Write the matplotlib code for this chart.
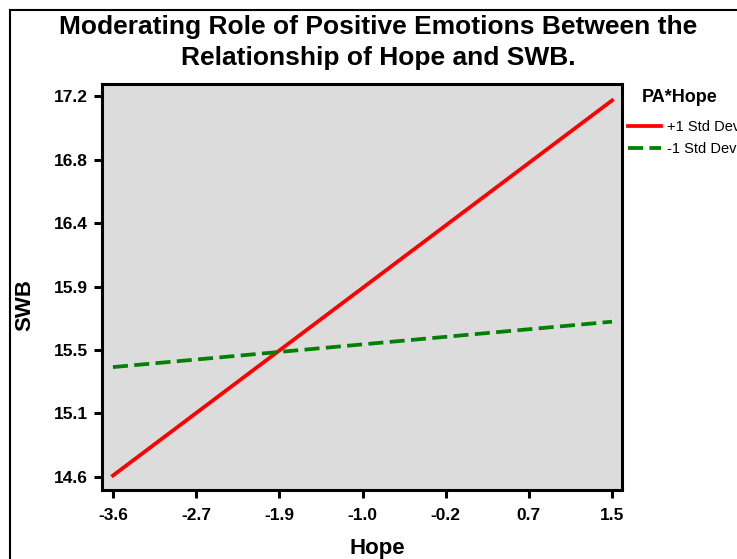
import numpy as np
import matplotlib.pyplot as plt
from matplotlib.lines import Line2D

# data
hope = [-3.6, 1.5]
swb_high = [14.61, 17.17]   # PA +1 Std Dev
swb_low = [15.35, 15.66]    # PA -1 Std Dev
series_labels = ['+1 Std Dev', '-1 Std Dev']
xtick_labels = ['-3.6', '-2.7', '-1.9', '-1.0', '-0.2', '0.7', '1.5']
ytick_labels = ['14.6', '15.1', '15.5', '15.9', '16.4', '16.8', '17.2']

plt.rcParams['font.family'] = ['Liberation Sans', 'DejaVu Sans']

fig = plt.figure(figsize=(7.37, 5.59), dpi=100)
ax = fig.add_axes([0.1384, 0.1234, 0.7056, 0.7263])
ax.set_facecolor('#dcdcdc')

ax.plot(hope, swb_high, color='#ff0000', lw=2.7, label=series_labels[0])
ax.plot(hope, swb_low, color='#008000', lw=2.7, ls=(0, (4, 1.7)), label=series_labels[1])

ax.set_xlim(-3.712, 1.602)
ax.set_ylim(14.511, 17.282)
ax.set_xticks(np.linspace(-3.6, 1.5, 7))
ax.set_xticklabels(xtick_labels)
ax.set_yticks(np.linspace(14.6, 17.2, 7))
ax.set_yticklabels(ytick_labels)

for s in ax.spines.values():
    s.set_linewidth(2.2)
ax.tick_params(length=6, width=2.2, labelsize=12.5)
ax.tick_params(axis='x', pad=7)
ax.tick_params(axis='y', pad=4)
for t in ax.get_xticklabels() + ax.get_yticklabels():
    t.set_fontweight('bold')

fig.text(0.512, 0.019, 'Hope', fontsize=16, fontweight='bold', ha='center', va='center')
fig.text(0.034, 0.455, 'SWB', fontsize=16, fontweight='bold', ha='center', va='center', rotation=90)

fig.text(0.513, 0.952, 'Moderating Role of Positive Emotions Between the',
         fontsize=19, fontweight='bold', ha='center', va='center')
fig.text(0.513, 0.897, 'Relationship of Hope and SWB.',
         fontsize=19, fontweight='bold', ha='center', va='center')

# legend (cut at the right edge, as in the original)
fig.text(680 / 737, 1 - 97 / 559, 'PA*Hope', fontsize=13, fontweight='bold',
         ha='center', va='center')
leg = ax.legend(loc='upper left', bbox_to_anchor=(1.0, 0.925), frameon=False,
                fontsize=10.5, handlelength=2.25, handletextpad=0.45,
                borderaxespad=0, labelspacing=0.55)

# outer frame of the original screenshot
fig.add_artist(Line2D([10 / 737, 10 / 737], [0, 1 - 10 / 559], color='black', lw=1.5))
fig.add_artist(Line2D([10 / 737, 1], [1 - 10 / 559, 1 - 10 / 559], color='black', lw=1.5))

fig.savefig('out.png', dpi=100)
